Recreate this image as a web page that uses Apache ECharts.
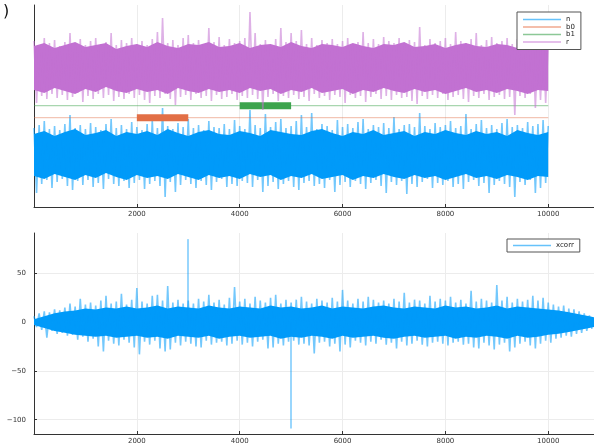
<!DOCTYPE html>
<html><head><meta charset="utf-8">
<script src="https://cdn.jsdelivr.net/npm/echarts@6/dist/echarts.min.js"></script>
<style>html,body{margin:0;padding:0;background:#fff}#c{width:594px;height:447px}</style>
</head><body><div id="c"></div>
<script>
// ---------- data ----------
const xTicks = [2000, 4000, 6000, 8000, 10000];
const yTicksBottom = [-100, -50, 0, 50];
const binStep = 100;      // envelope bins (hi at k*100, lo at k*100+50)
const coreStep = 200;     // dense core band sampling

// top panel: n (noise), extremes per bin (arbitrary vertical units)
const nHi = [7.9,8.2,8.6,7.8,8.1,7.7,8.3,9.2,7.9,8.2,
 7.8,8.4,8.0,7.7,8.3,8.8,7.9,8.2,7.8,8.5,
 8.0,7.7,8.3,8.7,7.9,9.9,8.1,7.8,8.4,8.0,
 8.8,7.9,8.2,7.7,8.6,8.0,7.9,8.3,7.8,8.7,
 8.1,7.8,9.7,8.2,7.9,9.3,8.0,8.5,8.8,7.9,
 8.1,8.6,9.2,8.0,9.4,7.8,8.3,8.1,7.7,8.7,
 8.0,8.3,7.9,8.5,8.8,7.8,8.2,8.0,8.4,7.9,
 9.0,7.8,8.2,8.3,8.0,9.4,8.1,7.8,8.4,8.0,
 8.2,8.6,7.9,8.1,9.3,7.8,8.3,8.7,7.9,8.2,
 7.8,8.4,8.8,8.0,8.2,7.9,8.5,8.1,8.3,8.7,
 8.1];
const nLo = [1.4,2.3,2.7,1.9,2.5,2.8,2.1,1.7,2.6,2.2,
 2.7,2.0,2.4,1.8,2.8,2.3,2.1,2.6,1.9,2.4,
 2.7,1.8,2.3,2.6,2.1,1.0,2.5,1.5,2.2,2.7,
 2.3,1.9,2.6,2.2,1.7,2.5,2.8,2.0,2.3,2.1,
 2.6,2.4,2.0,2.7,1.5,2.1,2.5,1.8,2.3,2.6,
 2.0,1.7,2.4,2.6,2.1,2.3,1.9,2.7,1.5,2.2,
 2.5,2.0,2.6,2.3,1.8,2.4,2.7,2.1,1.4,2.5,
 2.2,2.6,1.3,2.3,2.0,2.5,2.8,1.9,2.4,2.2,
 2.6,2.0,2.3,1.8,2.5,2.7,2.1,2.4,1.4,2.2,
 2.6,2.3,2.0,1.0,2.5,2.2,2.7,1.4,1.9,2.4];
const nCoreHi = [7.3,7.6,7.1,7.5,7.8,7.2,7.4,7.7,7.1,7.5, 7.3,7.6,7.2,7.8,7.4,7.1,7.5,7.7,7.3,7.2,
 7.6,7.4,7.1,7.7,7.5,7.3,7.2,7.6,7.8,7.4, 7.1,7.5,7.3,7.7,7.2,7.4,7.6,7.1,7.5,7.3,
 7.7,7.4,7.2,7.6,7.3,7.5,7.1,7.7,7.4,7.2, 7.5];
const nCoreLo = [3.1,2.8,3.3,3.0,2.7,3.2,2.9,3.4,3.0,2.7, 3.2,2.9,3.1,2.8,3.3,3.0,2.7,3.2,2.9,3.1,
 2.8,3.3,3.0,3.2,2.7,3.1,2.9,3.3,2.8,3.0, 3.2,2.7,3.1,2.9,3.3,3.0,2.8,3.2,2.9,3.1,
 2.7,3.0,3.3,2.9,3.1,2.8,3.2,3.0,2.7,3.1, 3.0];

// top panel: r
const rHi = [16.6,16.2,16.9,16.4,16.7,16.1,16.5,17.4,16.3,16.8,
 16.2,16.6,16.9,16.3,16.5,17.4,16.2,16.7,16.4,16.9,
 16.3,16.6,16.2,16.8,17.5,18.9,16.4,16.7,16.2,16.9,
 17.2,16.4,16.7,16.3,17.9,16.5,17.0,16.2,16.8,16.4,
 16.6,16.9,19.5,17.4,16.3,16.7,16.2,16.8,17.9,16.5,
 17.4,16.6,17.7,16.3,16.9,16.2,16.7,16.4,16.8,16.3,
 16.6,16.9,16.2,16.5,17.5,16.4,16.8,16.3,17.0,16.6,
 16.4,16.9,16.3,16.7,16.5,18.0,16.2,16.8,16.4,16.6,
 16.9,16.3,17.5,16.6,16.4,16.8,17.4,16.2,16.7,17.0,
 16.4,16.6,16.9,16.3,16.8,17.0,16.4,16.6,16.2,16.7,
 16.5];
const rLo = [10.4,11.1,10.8,11.3,10.9,11.2,10.7,11.0,11.4,10.5,
 11.1,10.8,11.3,10.9,11.2,10.6,11.0,10.8,11.3,10.9,
 11.2,10.7,10.4,11.1,10.9,11.3,10.8,10.2,11.0,11.2,
 10.7,11.3,10.9,11.1,10.6,11.2,10.8,11.0,11.3,10.7,
 11.1,10.9,11.2,10.8,9.7,11.0,11.3,10.6,11.1,10.9,
 11.2,10.8,11.0,10.6,11.3,10.9,11.1,10.7,11.2,11.0,
 10.4,11.2,10.9,11.1,10.5,11.0,11.3,10.8,11.1,10.7,
 11.2,10.9,11.0,10.6,10.3,11.1,10.8,11.2,10.9,11.3,
 10.7,11.0,11.2,10.8,10.5,11.1,10.9,11.3,10.7,11.0,
 11.2,10.8,11.0,9.2,11.1,10.9,11.3,9.9,10.7,10.4];
const rCoreHi = [16.1,16.4,15.9,16.2,16.5,16.0,16.2,16.4,15.8,16.1, 16.3,16.0,16.5,16.1,15.9,16.3,16.2,16.5,16.0,16.1,
 16.4,15.9,16.2,16.3,16.0,16.5,16.1,15.9,16.3,16.2, 16.0,16.4,16.1,15.9,16.3,16.2,16.5,16.0,16.1,16.3,
 15.9,16.2,16.4,16.1,16.0,16.3,16.2,15.9,16.4,16.1, 16.2];
const rCoreLo = [11.7,11.4,11.9,11.6,11.3,11.8,11.5,12.0,11.6,11.4, 11.8,11.5,11.7,11.3,11.9,11.6,11.4,11.8,11.5,11.7,
 11.4,11.9,11.6,11.8,11.3,11.7,11.5,11.9,11.4,11.6, 11.8,11.3,11.7,11.5,11.9,11.6,11.4,11.8,11.5,11.7,
 11.3,11.6,11.9,11.5,11.7,11.4,11.8,11.6,11.3,11.7, 11.6];

// b0 / b1 levels and burst spans
const b0Level = 8.93, b0Burst = [2000, 3000];
const b1Level = 10.13, b1Burst = [4000, 5000];
const signalEnd = 10000;

// bottom panel: xcorr
const xcorrHi = [6,9,11,10,13,12,15,19,16,24,
 18,20,17,22,27,19,21,29,18,23,
 35,21,19,27,28,22,37,20,23,19,
 22,19,24,21,28,20,23,18,25,36,
 21,24,19,26,22,20,25,28,19,23,
 20,23,26,21,19,24,22,20,25,21,
 33,22,19,24,21,26,23,20,22,19,
 24,21,30,20,23,22,19,27,21,24,
 22,26,20,23,19,32,21,24,22,20,
 38,22,26,20,24,21,23,27,22,25,
 20,18,16,17,14,13,11,9,7];
const xcorrLo = [-5,-8,-16,-9,-12,-11,-14,-13,-18,-15,
 -20,-17,-25,-30,-19,-22,-24,-18,-21,-26,
 -33,-20,-23,-19,-27,-30,-28,-21,-24,-20,
 -22,-25,-26,-19,-23,-21,-20,-24,-22,-19,
 -23,-21,-25,-20,-18,-27,-26,-22,-24,-20,
 -19,-23,-22,-24,-32,-21,-20,-25,-22,-30,
 -23,-26,-19,-21,-24,-20,-22,-18,-23,-21,
 -27,-20,-24,-22,-19,-23,-25,-21,-20,-22,
 -24,-21,-20,-23,-22,-26,-27,-21,-24,-28,
 -23,-21,-30,-26,-22,-20,-24,-27,-22,-19,
 -21,-17,-16,-14,-15,-12,-11,-9,-7];
const xcorrCoreHi = [3,6,9,11,12,14,13,15,14,16, 14,15,17,14,16,15,14,17,15,14,
 16,15,14,17,15,16,14,15,17,14, 16,15,14,16,17,15,14,16,15,14,
 17,15,16,14,15,17,14,16,15,14, 13,12,10,8,6,4];
const xcorrCoreLo = [-3,-6,-9,-11,-13,-14,-15,-14,-16,-15, -14,-16,-15,-17,-14,-15,-16,-14,-17,-15,
 -14,-16,-15,-14,-17,-15,-16,-14,-15,-17, -14,-16,-15,-14,-16,-17,-15,-14,-16,-15,
 -14,-17,-15,-16,-14,-15,-17,-14,-16,-15, -13,-12,-10,-8,-6,-4];
const xcorrSpikeX = [2995, 4998];
const xcorrSpikeY = [85, -109];

// ---------- build ----------
const BLUE = '#009af9', ORANGE = '#e26f46', GREEN = '#3da44d', PURPLE = '#c271d2';
const FONT = 'DejaVu Sans';
function zig(hi, lo, step) {
  const d = [];
  for (let i = 0; i < hi.length; i++) {
    d.push([i * step, hi[i]]);
    if (i < lo.length) d.push([i * step + step / 2, lo[i]]);
  }
  return d;
}
function band(hi, lo, step, color, ax) {
  return {
    type: 'custom', xAxisIndex: ax, yAxisIndex: ax, silent: true, clip: true,
    data: hi.map((v, i) => [i * step, v, lo[i]]),
    encode: { x: 0, y: [1, 2] },
    renderItem: function (params, api) {
      if (params.dataIndex !== 0) return null;
      const top = [], bot = [];
      for (let i = 0; i < hi.length; i++) {
        top.push(api.coord([i * step, hi[i]]));
        bot.push(api.coord([i * step, lo[i]]));
      }
      return { type: 'polygon', shape: { points: top.concat(bot.reverse()) }, style: { fill: color } };
    }
  };
}
function lineSeries(name, ax, data, color, width) {
  return { type: 'line', name, xAxisIndex: ax, yAxisIndex: ax, data, symbol: 'none', silent: true,
    lineStyle: { color, width }, itemStyle: { color } };
}

const series = [];
series.push(band(nCoreHi, nCoreLo, coreStep, BLUE, 0));
series.push(lineSeries('n', 0, zig(nHi, nLo, binStep), 'rgba(0,154,249,0.55)', 1.6));
series.push(lineSeries('b0', 0, [[0, b0Level], [signalEnd, b0Level]], 'rgba(226,111,70,0.4)', 1.3));
series.push(lineSeries('b0', 0, [[b0Burst[0], b0Level], [b0Burst[1], b0Level]], ORANGE, 7));
series.push(lineSeries('b1', 0, [[0, b1Level], [signalEnd, b1Level]], 'rgba(61,164,77,0.45)', 1.3));
series.push(lineSeries('b1', 0, [[b1Burst[0], b1Level], [b1Burst[1], b1Level]], GREEN, 7));
series.push(band(rCoreHi, rCoreLo, coreStep, PURPLE, 0));
series.push(lineSeries('r', 0, zig(rHi, rLo, binStep), 'rgba(194,113,210,0.55)', 1.6));
series.push(band(xcorrCoreHi, xcorrCoreLo, coreStep, BLUE, 1));
series.push(lineSeries('xcorr', 1, zig(xcorrHi, xcorrLo, binStep), 'rgba(0,154,249,0.55)', 1.6));
xcorrSpikeX.forEach((x, i) => {
  series.push(lineSeries('spike' + i, 1, [[x, 0], [x, xcorrSpikeY[i]]], 'rgba(0,154,249,0.8)', 1));
});

const axisLineStyle = { color: '#333', width: 1 };
const gridLine = { show: true, lineStyle: { color: '#ececec', width: 1 } };
function xAxis(gi) {
  return { type: 'value', gridIndex: gi, min: 0, max: 10890,
    axisLine: { show: true, onZero: false, lineStyle: axisLineStyle },
    axisTick: { show: true, inside: true, length: 3, customValues: xTicks, lineStyle: axisLineStyle },
    axisLabel: { customValues: xTicks, margin: 4, fontSize: 7, color: '#333', fontFamily: FONT,
      formatter: v => String(v) },
    splitLine: gridLine };
}
const legendIcon = 'path://M0 0H38V1.4H0Z';
const option = {
  animation: false,
  backgroundColor: '#fff',
  grid: [
    { left: 34, top: 5, right: 0, bottom: 240 },
    { left: 34, top: 233, right: 0, bottom: 13 }
  ],
  xAxis: [xAxis(0), xAxis(1)],
  yAxis: [
    { type: 'value', gridIndex: 0, min: 0, max: 20.2,
      axisLine: { show: true, lineStyle: axisLineStyle }, axisTick: { show: false },
      axisLabel: { show: false }, splitLine: { show: false } },
    { type: 'value', gridIndex: 1, min: -114.6, max: 91.3,
      axisLine: { show: true, lineStyle: axisLineStyle },
      axisTick: { show: true, inside: true, length: 3, customValues: yTicksBottom, lineStyle: axisLineStyle },
      axisLabel: { customValues: yTicksBottom, margin: 8, fontSize: 7, color: '#333', fontFamily: FONT,
        formatter: v => v < 0 ? '\u2212' + (-v) : String(v) },
      splitLine: gridLine }
  ],
  legend: [
    { orient: 'vertical', left: 517, top: 12, padding: [4, 6, 4, 6], itemGap: 0.5, itemWidth: 38, itemHeight: 7.2,
      itemTextGap: 5, borderColor: '#555', borderWidth: 1, backgroundColor: '#fff',
      textStyle: { fontSize: 7, color: '#222', fontFamily: FONT },
      data: [
        { name: 'n', icon: legendIcon, itemStyle: { color: '#66c2fb', borderWidth: 0, opacity: 1 } },
        { name: 'b0', icon: legendIcon, itemStyle: { color: '#f0a98f', borderWidth: 0, opacity: 1 } },
        { name: 'b1', icon: legendIcon, itemStyle: { color: '#8cc896', borderWidth: 0, opacity: 1 } },
        { name: 'r', icon: legendIcon, itemStyle: { color: '#dcaae5', borderWidth: 0, opacity: 1 } }
      ] },
    { orient: 'vertical', left: 507, top: 239, padding: [3, 6, 3, 6], itemWidth: 38, itemHeight: 10,
      itemTextGap: 6, borderColor: '#555', borderWidth: 1, backgroundColor: '#fff',
      textStyle: { fontSize: 7, color: '#222', fontFamily: FONT },
      data: [ { name: 'xcorr', icon: legendIcon, itemStyle: { color: '#66c2fb', borderWidth: 0, opacity: 1 } } ] }
  ],
  graphic: [
    { type: 'text', left: 3, top: 4, style: { text: ')', fontSize: 16, fill: '#111', fontFamily: FONT } }
  ],
  series
};
const chart = echarts.init(document.getElementById('c'));
chart.setOption(option);
</script>
</body></html>
